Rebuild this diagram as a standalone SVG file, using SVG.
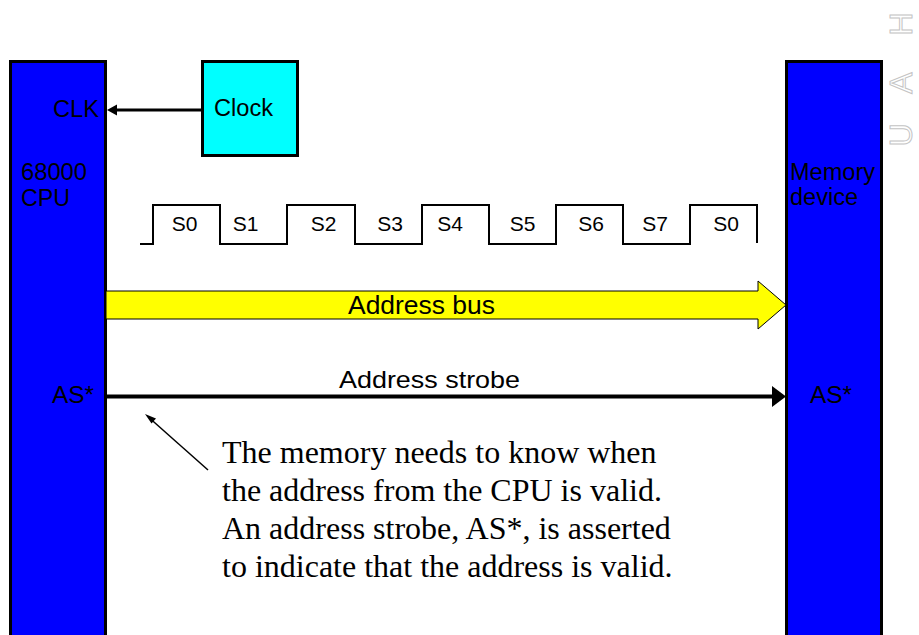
<svg xmlns="http://www.w3.org/2000/svg" width="919" height="635" viewBox="0 0 919 635">
<style>
.blk{fill:#0000FF;stroke:#000;stroke-width:3}
.lbl{font-family:"Liberation Sans",Arial,sans-serif;font-size:23px;fill:#000}
.st{font-family:"Liberation Sans",Arial,sans-serif;font-size:21px;fill:#000;text-anchor:middle}
.note{font-family:"Liberation Serif","Times New Roman",serif;font-size:32px;fill:#000}
.logo{font-family:"Liberation Sans",Arial,sans-serif;font-size:32px;fill:#fff;stroke:#c4c4c4;stroke-width:1;text-anchor:middle}
</style>
<rect width="919" height="635" fill="#fff"/>
<g id="logo">
<text class="logo" transform="translate(912,135) rotate(-90)">U</text>
<text class="logo" transform="translate(912,83) rotate(-90)">A</text>
<text class="logo" transform="translate(912,24) rotate(-90)">H</text>
</g>
<g id="cpu">
<rect class="blk" x="10.5" y="61.5" width="95" height="590"/>
<text class="lbl" x="53" y="117" textLength="46" lengthAdjust="spacingAndGlyphs">CLK</text>
<text class="lbl" x="21" y="180" textLength="66" lengthAdjust="spacingAndGlyphs">68000</text>
<text class="lbl" x="21" y="206" textLength="49" lengthAdjust="spacingAndGlyphs">CPU</text>
<text class="lbl" x="52" y="403" textLength="42" lengthAdjust="spacingAndGlyphs">AS*</text>
</g>
<g id="memory">
<rect class="blk" x="786.5" y="61.5" width="95" height="590"/>
<text class="lbl" x="790" y="180" textLength="85" lengthAdjust="spacingAndGlyphs">Memory</text>
<text class="lbl" x="790" y="205" textLength="68" lengthAdjust="spacingAndGlyphs">device</text>
<text class="lbl" x="810" y="403" textLength="42" lengthAdjust="spacingAndGlyphs">AS*</text>
</g>
<g id="clock">
<rect x="202.5" y="61.5" width="95" height="94" fill="#00FFFF" stroke="#000" stroke-width="3"/>
<text class="lbl" x="214" y="116" textLength="59" lengthAdjust="spacingAndGlyphs">Clock</text>
</g>
<g id="waveform">
<path d="M140,244 H153 V205 H220 V244 H287 V205 H355 V244 H422 V205 H489 V244 H556 V205 H623 V244 H690 V205 H757 V243" fill="none" stroke="#000" stroke-width="2"/>
<text class="st" x="184.5" y="231">S0</text>
<text class="st" x="245.5" y="231">S1</text>
<text class="st" x="323.5" y="231">S2</text>
<text class="st" x="390" y="231">S3</text>
<text class="st" x="450" y="231">S4</text>
<text class="st" x="522.5" y="231">S5</text>
<text class="st" x="591" y="231">S6</text>
<text class="st" x="655" y="231">S7</text>
<text class="st" x="726" y="231">S0</text>
</g>
<g id="connectors">
<line x1="201" y1="110" x2="115" y2="110" stroke="#000" stroke-width="3"/>
<polygon points="107,110 117,104.5 117,115.5" fill="#000"/>
<polygon points="106,291 758,291 758,281 786,305 758,329 758,319 106,319" fill="#FFFF00" stroke="#000" stroke-width="1"/>
<text class="lbl" x="348" y="314" textLength="147" lengthAdjust="spacingAndGlyphs" style="font-size:26px">Address bus</text>
<line x1="107" y1="396.5" x2="773" y2="396.5" stroke="#000" stroke-width="4"/>
<polygon points="786,396.5 772,386 772,407" fill="#000"/>
<text class="lbl" x="339" y="388" textLength="181" lengthAdjust="spacingAndGlyphs" style="font-size:24px">Address strobe</text>
<line x1="208" y1="470" x2="150" y2="418.5" stroke="#000" stroke-width="1.5"/>
<polygon points="145,414 156,418.5 151.5,423.5" fill="#000"/>
</g>
<g id="note">
<text class="note" x="222" y="463">The memory needs to know when</text>
<text class="note" x="222" y="501">the address from the CPU is valid.</text>
<text class="note" x="222" y="539">An address strobe, AS*, is asserted</text>
<text class="note" x="222" y="577">to indicate that the address is valid.</text>
</g>
</svg>
